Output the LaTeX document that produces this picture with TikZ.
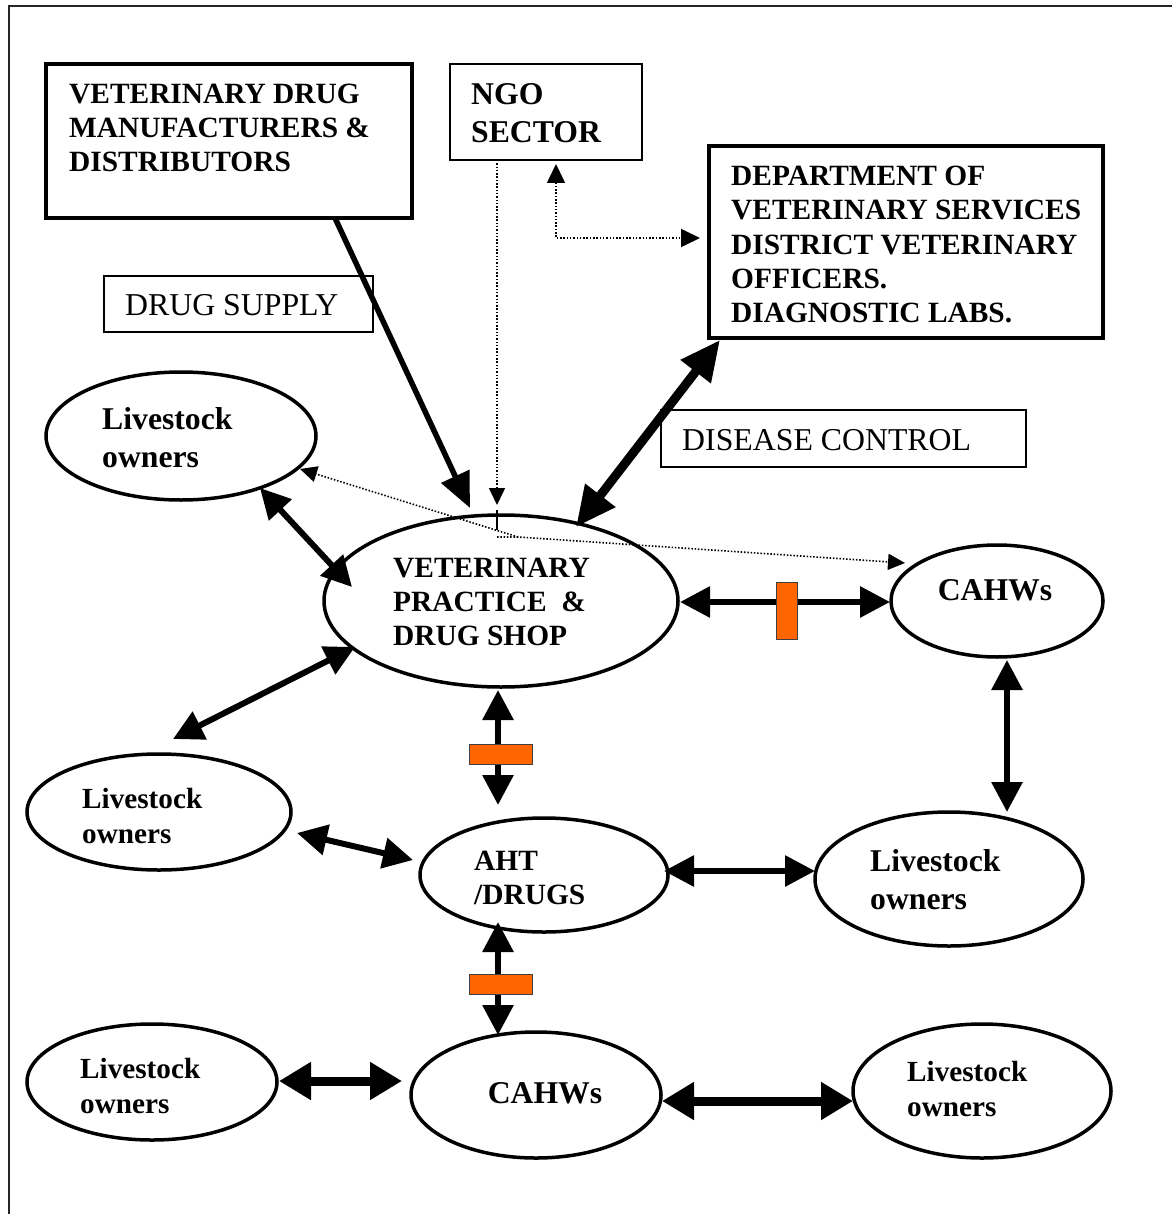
\documentclass[tikz,border=0pt]{standalone}
\usepackage{fontspec}
\setmainfont{Liberation Serif}
\usetikzlibrary{arrows.meta,calc,shapes.geometric}
\definecolor{barorange}{HTML}{FF6600}
\begin{document}
\begin{tikzpicture}[x=1pt,y=-1pt,
  box/.style={draw, rectangle, inner sep=0pt},
  thickbox/.style={box, line width=3.5pt},
  thinbox/.style={box, line width=1.2pt},
  oval/.style={draw, ellipse, line width=3.5pt, inner sep=0pt},
  txt/.style={inner sep=0pt, anchor=west, align=left},
  bigb/.style={font={\fontsize{31.7}{38}\selectfont\bfseries}},
  smlb/.style={font={\fontsize{29.4}{34.2}\selectfont\bfseries}},
  smlc/.style={font={\fontsize{29.2}{35}\selectfont\bfseries}},
  plain/.style={font={\fontsize{31.8}{37}\selectfont}},
  biarr/.style={line width=6pt, arrows={Triangle[length=30pt,width=30pt]-Triangle[length=30pt,width=30pt]}},
  bigarr/.style={line width=9pt, arrows={Triangle[length=40pt,width=36pt]-Triangle[length=40pt,width=36pt]}},
  widearr/.style={line width=9pt, arrows={Triangle[length=32pt,width=36pt]-Triangle[length=32pt,width=36pt]}},
  onearr/.style={line width=5.5pt, arrows={-Triangle[length=35pt,width=30pt]}},
  dotln/.style={line width=1.6pt, dash pattern=on 1.5pt off 1.8pt},
  smalltip/.style={arrows={-Triangle[length=17pt,width=16pt]}},
  smallbi/.style={arrows={Triangle[length=19pt,width=18pt]-Triangle[length=19pt,width=18pt]}},
  bar/.style={draw=black!75, fill=barorange, line width=1pt, inner sep=0pt}
]
\useasboundingbox (0,0) rectangle (1172,1214);
\fill[white] (0,0) rectangle (1172,1214);

% outer frame
\draw[line width=2pt, black!85] (1172,6) -- (9,6) -- (9,1214);

% boxes
\node[thickbox, minimum width=366pt, minimum height=154pt] (vdm) at (229,141) {};
\node[txt, smlb] (vdmt) at (69,128) {VETERINARY DRUG\\MANUFACTURERS \&\\DISTRIBUTORS};

\node[thinbox, minimum width=192pt, minimum height=96pt] (ngo) at (546,112) {};
\node[txt, bigb] (ngot) at (471,113) {NGO\\SECTOR};

\node[thickbox, minimum width=394pt, minimum height=192pt] (dept) at (906,242) {};
\node[txt, smlb] (deptt) at (731,244.5) {DEPARTMENT OF\\VETERINARY SERVICES\\DISTRICT VETERINARY\\OFFICERS.\\DIAGNOSTIC LABS.};

\node[thinbox, minimum width=269pt, minimum height=56pt] (supply) at (238.5,304) {};
\node[txt, plain] (supplyt) at (125,305) {DRUG SUPPLY};

\node[thinbox, minimum width=365pt, minimum height=57pt] (disease) at (843.5,438.5) {};
\node[txt, plain] (diseaset) at (682,440) {DISEASE CONTROL};

% ellipses
\node[oval, minimum width=270pt, minimum height=128pt] (lo1) at (181,436) {};
\node[txt, bigb] (lo1t) at (102,438) {Livestock\\owners};

\node[oval, minimum width=354pt, minimum height=172pt] (vp) at (501,601) {};
\node[txt, smlb] (vpt) at (393,602) {VETERINARY\\PRACTICE\ \ \&\\DRUG SHOP};

\node[oval, minimum width=212pt, minimum height=112pt] (cw1) at (997,601) {};
\node[inner sep=0pt, bigb] (cw1t) at (995,590) {CAHWs};

\node[oval, minimum width=264pt, minimum height=116pt] (lo2) at (159,812) {};
\node[txt, smlc] (lo2t) at (82,816.5) {Livestock\\owners};

\node[oval, minimum width=248pt, minimum height=114pt] (aht) at (544,875) {};
\node[txt, smlb] (ahtt) at (474,878) {AHT\\/DRUGS};

\node[oval, minimum width=268pt, minimum height=134pt] (lo3) at (949,879) {};
\node[txt, bigb] (lo3t) at (870,880) {Livestock\\owners};

\node[oval, minimum width=250pt, minimum height=116pt] (lo4) at (152,1082) {};
\node[txt, smlc] (lo4t) at (80,1085.5) {Livestock\\owners};

\node[oval, minimum width=250pt, minimum height=126pt] (cw2) at (536,1095) {};
\node[inner sep=0pt, bigb] (cw2t) at (545,1093) {CAHWs};

\node[oval, minimum width=258pt, minimum height=134pt] (lo5) at (982,1091) {};
\node[txt, smlc] (lo5t) at (907,1088.5) {Livestock\\owners};

% dotted connections
\draw[dotln, smalltip] ($(ngo)+(-49,48)$) -- ($(vp)+(-4,-96)$);
\draw[line width=1.2pt] ($(vp)+(-4,-91)$) -- ($(vp)+(-4,-71)$);
\coordinate (j) at ($(vp)+(-4,-64)$);
\coordinate (k) at ($(vp)+(17,-64)$);
\draw[dotln, smalltip] (j) -- (k) -- ($(cw1)+(-92,-38)$);
\draw[dotln, smalltip] (k) -- ($(lo1)+(119,33)$);
\draw[dotln, smallbi] ($(ngo)+(10,52)$) |- ($(dept)+(-206,-4)$);

% solid arrows
\draw[onearr] ($(vdm)+(106,77)$) -- ($(vp)+(-31,-93)$);
\draw[bigarr] ($(vp)+(75,-74)$) -- ($(dept)+(-186,98)$);
\draw[biarr] ($(lo1)+(79,52)$) -- ($(vp)+(-149,-14)$);
\draw[biarr] ($(vp)+(179,1)$) -- ($(cw1)+(-107,1)$);
\draw[biarr] ($(vp)+(-146,46)$) -- ($(lo2)+(14,-73)$);
\draw[biarr] ($(vp)+(-3,89)$) -- ($(aht)+(-46,-70)$);
\draw[biarr] ($(cw1)+(10,59)$) -- ($(lo3)+(58,-67)$);
\draw[biarr] ($(lo2)+(138,21)$) -- ($(aht)+(-131,-15)$);
\draw[biarr] ($(aht)+(120,-4)$) -- ($(lo3)+(-134,-8)$);
\draw[biarr] ($(aht)+(-46,47)$) -- ($(cw2)+(-38,-60)$);
\draw[widearr] ($(lo4)+(127,-1)$) -- ($(cw2)+(-134,-14)$);
\draw[widearr] ($(cw2)+(126,6)$) -- ($(lo5)+(-129,10)$);

% orange bars
\node[bar, minimum width=21pt, minimum height=57pt] (bar1) at (787,611) {};
\node[bar, minimum width=63pt, minimum height=20pt] (bar2) at (500.5,754) {};
\node[bar, minimum width=63pt, minimum height=20pt] (bar3) at (500.5,984) {};
\end{tikzpicture}
\end{document}
